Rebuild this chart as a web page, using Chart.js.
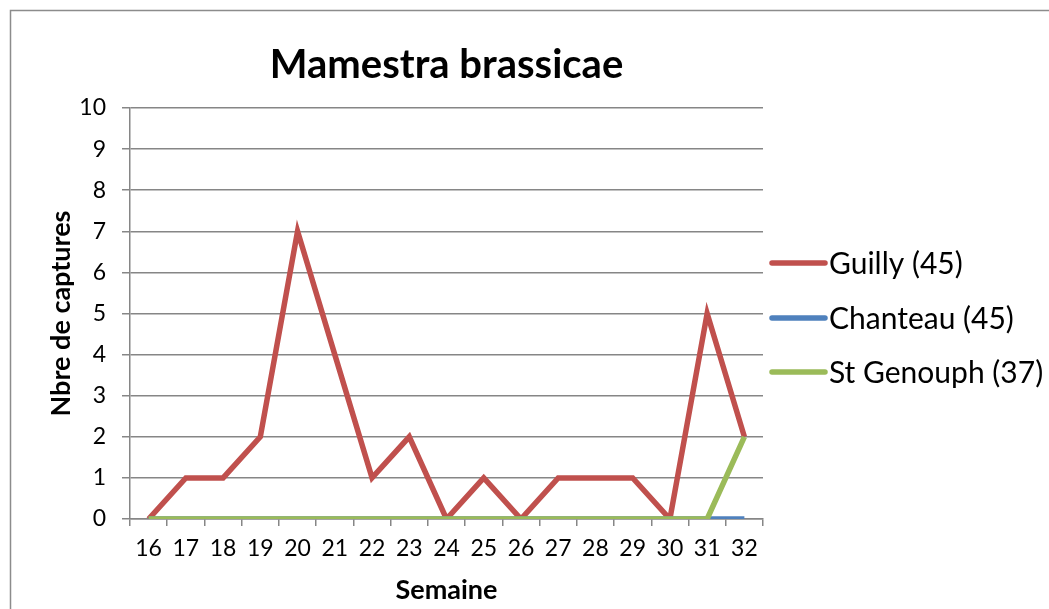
<!DOCTYPE html>
<html>
<head>
<meta charset="utf-8">
<script src="https://cdn.jsdelivr.net/npm/chart.js@4.4.0/dist/chart.umd.min.js"></script>
<style>
  html, body { margin: 0; padding: 0; background: #fff; overflow: hidden; }
  #wrap { width: 1049px; height: 609px; }
</style>
</head>
<body>
<div id="wrap"><canvas id="chart" width="1049" height="609"></canvas></div>
<script>
// weeks (x axis)
var semaines = ['16', '17', '18', '19', '20', '21', '22', '23', '24', '25', '26', '27', '28', '29', '30', '31', '32'];
// catches per week for each site
var guilly     = [0, 1, 1, 2, 7, 4, 1, 2, 0, 1, 0, 1, 1, 1, 0, 5, 2];
var chanteau   = [0, 0, 0, 0, 0, 0, 0, 0, 0, 0, 0, 0, 0, 0, 0, 0, 0];
var stGenouph  = [0, 0, 0, 0, 0, 0, 0, 0, 0, 0, 0, 0, 0, 0, 0, 0, 2];
var seriesNames = ['Guilly (45)', 'Chanteau (45)', 'St Genouph (37)'];
var seriesColors = ['#C0504D', '#4F81BD', '#9BBB59'];

var FONT = 'Lato, "Open Sans", sans-serif';
var GRID = '#868686';

// outer frame of the chart (cropped on right and bottom)
var framePlugin = {
    id: 'frame',
    beforeDraw: function (chart) {
        var ctx = chart.ctx;
        ctx.save();
        ctx.fillStyle = '#fff';
        ctx.fillRect(0, 0, chart.width, chart.height);
        ctx.strokeStyle = '#8c8c8c';
        ctx.lineWidth = 1.5;
        ctx.strokeRect(10.5, 10.5, chart.width + 20, chart.height + 20);
        ctx.restore();
    }
};

// legend on the right, drawn by hand so it sits like the original
var sideLegend = {
    id: 'sideLegend',
    afterDraw: function (chart) {
        var ctx = chart.ctx;
        var x0 = 772, x1 = 825, tx = 829;
        var ys = [263, 318, 372];
        ctx.save();
        chart.data.datasets.forEach(function (ds, i) {
            ctx.strokeStyle = ds.borderColor;
            ctx.lineWidth = 5.5;
            ctx.lineCap = 'round';
            ctx.beginPath();
            ctx.moveTo(x0, ys[i]);
            ctx.lineTo(x1, ys[i]);
            ctx.stroke();
            ctx.fillStyle = '#000';
            ctx.font = '30px ' + FONT;
            ctx.textBaseline = 'middle';
            ctx.textAlign = 'left';
            ctx.fillText(ds.label, tx, ys[i] + 1);
        });
        ctx.restore();
    }
};

var data = [guilly, chanteau, stGenouph];
var datasets = data.map(function (values, i) {
    return {
        label: seriesNames[i],
        data: values,
        borderColor: seriesColors[i],
        backgroundColor: seriesColors[i],
        borderWidth: 5.5,
        pointRadius: 0,
        tension: 0,
        fill: false,
        order: 3 - i // later series on top, like the original
    };
});

var ctx = document.getElementById('chart').getContext('2d');
var chart = new Chart(ctx, {
    type: 'line',
    data: { labels: semaines, datasets: datasets },
    options: {
        responsive: false,
        animation: false,
        layout: { padding: { left: 40, right: 286, top: 20, bottom: 0 } },
        plugins: {
            legend: { display: false },
            tooltip: { enabled: false },
            title: {
                display: true,
                text: 'Mamestra brassicae',
                fullSize: false,
                color: '#000',
                font: { family: FONT, size: 40, weight: 'bold' },
                padding: { top: 21, bottom: 19 }
            }
        },
        scales: {
            x: {
                offset: true,
                grid: {
                    offset: true,
                    drawOnChartArea: false,
                    drawTicks: true,
                    tickLength: 7,
                    color: GRID,
                    lineWidth: 1.5
                },
                border: { color: GRID, width: 1.5 },
                ticks: {
                    color: '#000',
                    font: { family: FONT, size: 23 },
                    padding: 9,
                    maxRotation: 0,
                    autoSkip: false
                },
                title: {
                    display: true,
                    text: 'Semaine',
                    color: '#000',
                    font: { family: FONT, size: 27, weight: 'bold' },
                    padding: { top: 0, bottom: 3 }
                },
                afterFit: function (scale) { scale.height = 90; }
            },
            y: {
                min: 0,
                max: 10,
                grid: {
                    color: GRID,
                    lineWidth: 1.5,
                    tickLength: 8
                },
                border: { color: GRID, width: 1.5 },
                ticks: {
                    stepSize: 1,
                    color: '#000',
                    font: { family: FONT, size: 23 },
                    padding: 16
                },
                title: {
                    display: true,
                    text: 'Nbre de captures',
                    color: '#000',
                    font: { family: FONT, size: 27, weight: 'bold' },
                    padding: { top: 5, bottom: 0 }
                },
                afterFit: function (scale) { scale.width = 90; }
            }
        }
    },
    plugins: [framePlugin, sideLegend]
});
</script>
</body>
</html>
